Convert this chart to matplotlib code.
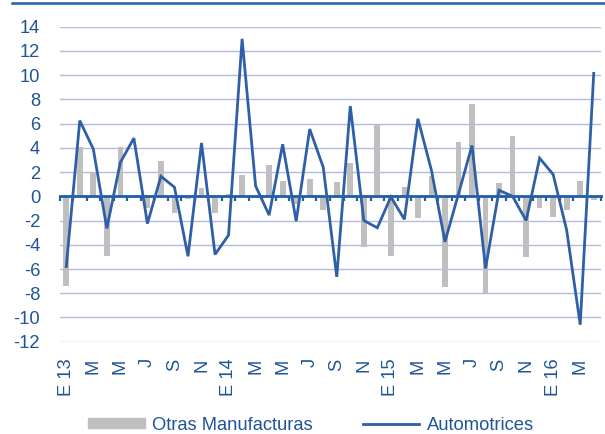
import matplotlib
matplotlib.use("Agg")
import matplotlib.pyplot as plt
from matplotlib.lines import Line2D
import numpy as np

plt.rcParams['font.family'] = ['Liberation Sans', 'DejaVu Sans']
plt.rcParams['axes.unicode_minus'] = False

months = ["E 13", "F", "M", "A", "M", "J", "J", "A", "S", "O", "N", "D",
          "E 14", "F", "M", "A", "M", "J", "J", "A", "S", "O", "N", "D",
          "E 15", "F", "M", "A", "M", "J", "J", "A", "S", "O", "N", "D",
          "E 16", "F", "M", "A"]

otras = [-7.4, 4.1, 2.0, -4.9, 4.1, 0.0, -1.0, 2.9, -1.4, -0.25, 0.7, -1.4,
         0.15, 1.8, 0.0, 2.55, 1.25, -0.6, 1.4, -1.1, 1.15, 2.75, -4.2, 5.9,
         -4.95, 0.8, -1.75, 1.65, -7.5, 4.5, 7.6, -7.95, 1.1, 4.95, -5.0, -0.95,
         -1.7, -1.15, 1.3, -0.3]

auto = [-5.8, 6.25, 3.9, -2.65, 2.8, 4.8, -2.25, 1.65, 0.75, -4.95, 4.4, -4.8,
        -3.2, 13.0, 0.85, -1.55, 4.3, -2.05, 5.55, 2.4, -6.65, 7.45, -2.0, -2.6,
        -0.05, -1.9, 6.4, 2.15, -3.75, 0.2, 4.2, -5.95, 0.5, 0.0, -2.0, 3.15,
        1.8, -2.8, -10.6, 10.15]

yticks = list(range(-12, 15, 2))

BLUE_TXT = "#1f5597"
LINE = "#2f5fa6"
GRID = "#b3bcdc"
BAR = "#bfbfbf"
FS = 13.2

fig = plt.figure(figsize=(6.05, 4.34), dpi=100)
ax = fig.add_axes([59.5 / 605, 1 - 341.7 / 434, 541 / 605, 315 / 434])

x = np.arange(len(months))
ax.bar(x, otras, width=0.42, color=BAR, zorder=2, label="Otras Manufacturas")
ax.plot(x, auto, color=LINE, lw=2.0, zorder=4, label="Automotrices",
        solid_joinstyle='miter')

ax.set_xlim(-0.5, len(months) - 0.5)
ax.set_ylim(-12, 14)
ax.set_yticks(yticks)
ax.yaxis.grid(True, color=GRID, lw=1.0, zorder=0)
ax.set_axisbelow(True)
ax.tick_params(axis='y', length=0, pad=14, labelsize=FS, labelcolor=BLUE_TXT)

for s in ['left', 'right', 'top']:
    ax.spines[s].set_visible(False)
ax.spines['bottom'].set_position(('data', 0))
ax.spines['bottom'].set_color("#1f5fa8")
ax.spines['bottom'].set_linewidth(2.0)
ax.spines['bottom'].set_zorder(3)
ax.set_xticks(np.arange(len(months) + 1) - 0.5)
ax.set_xticklabels([])
ax.tick_params(axis='x', direction='out', length=3.5, width=1.6, color="#1f5fa8")

sec = ax.secondary_xaxis(0)
sec.set_xticks(x[::2])
sec.set_xticklabels(months[::2], rotation=90, fontsize=FS, color=BLUE_TXT)
sec.tick_params(length=0, pad=12)
sec.spines['bottom'].set_visible(False)

handles = [plt.Rectangle((0, 0), 1, 1, color=BAR),
           Line2D([0], [0], color=LINE, lw=2.0)]
leg = fig.legend(handles, ["Otras Manufacturas", "Automotrices"], ncol=2,
                 loc='center', bbox_to_anchor=(311 / 605, 1 - 425 / 434),
                 frameon=False, fontsize=FS, handlelength=3.1,
                 handleheight=0.5, handletextpad=0.4, columnspacing=2.7)
for t in leg.get_texts():
    t.set_color(BLUE_TXT)

fig.add_artist(Line2D([12 / 605, 1.0], [1 - 3 / 434, 1 - 3 / 434],
                      color="#1f5fa8", lw=1.8, transform=fig.transFigure))

fig.savefig("out.png", dpi=100)
